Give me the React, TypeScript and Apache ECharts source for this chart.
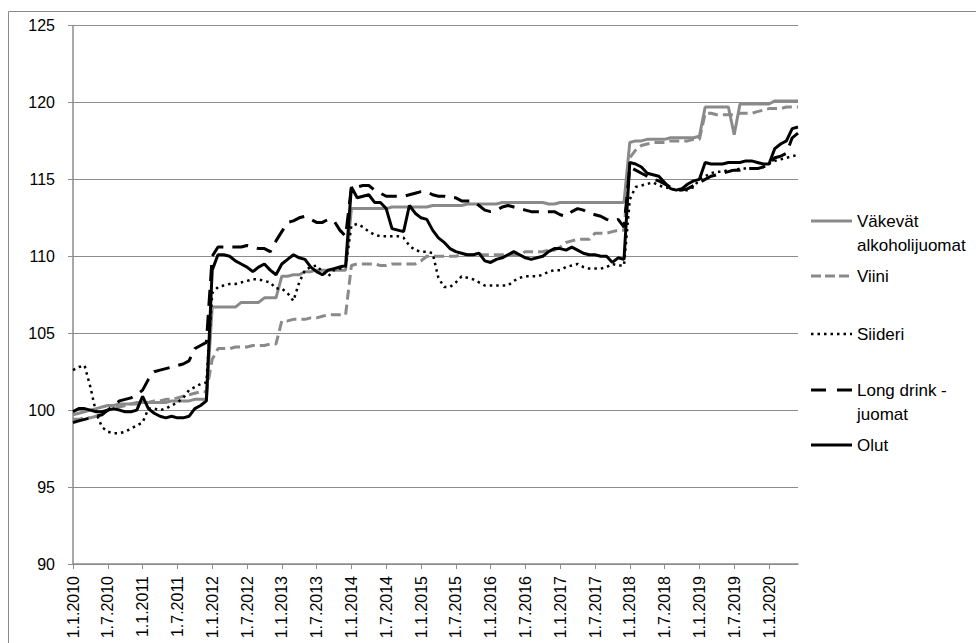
import React, { useEffect, useRef } from "react";
import * as echarts from "echarts";

const years = [2010, 2011, 2012, 2013, 2014, 2015, 2016, 2017, 2018, 2019, 2020];
const monthsShown = 126;
const categories: string[] = [];
years.forEach((y) => {
  for (let m = 1; m <= 12; m++) {
    if (categories.length < monthsShown) categories.push(`1.${m}.${y}`);
  }
});

const yTicks = { min: 90, max: 125, interval: 5 };

// Väkevät alkoholijuomat
const vakevat = [
  99.7, 99.8, 99.9, 100.0, 100.1, 100.2, 100.3, 100.3, 100.4, 100.4, 100.4, 100.5,
  100.5, 100.5, 100.5, 100.5, 100.5, 100.6, 100.6, 100.6, 100.6, 100.7, 100.7, 100.7,
  106.7, 106.7, 106.7, 106.7, 106.7, 107.0, 107.0, 107.0, 107.0, 107.3, 107.3, 107.3,
  108.7, 108.7, 108.8, 108.8, 109.0, 109.0, 109.1, 109.1, 109.1, 109.1, 109.1, 109.1,
  113.1, 113.1, 113.1, 113.1, 113.1, 113.1, 113.1, 113.2, 113.2, 113.2, 113.2, 113.2,
  113.2, 113.2, 113.3, 113.3, 113.3, 113.3, 113.3, 113.3, 113.4, 113.4, 113.4, 113.4,
  113.4, 113.4, 113.5, 113.5, 113.5, 113.5, 113.5, 113.5, 113.5, 113.5, 113.4, 113.4,
  113.5, 113.5, 113.5, 113.5, 113.5, 113.5, 113.5, 113.5, 113.5, 113.5, 113.5, 113.5,
  117.4, 117.5, 117.5, 117.6, 117.6, 117.6, 117.6, 117.7, 117.7, 117.7, 117.7, 117.7,
  117.8, 119.7, 119.7, 119.7, 119.7, 119.7, 117.9, 119.9, 119.9, 119.9, 119.9, 119.9,
  119.9, 120.1, 120.1, 120.1, 120.1, 120.1,
];

// Viini
const viini = [
  99.4, 99.4, 99.5, 99.5, 99.6, 99.8, 100.0, 100.1, 100.2, 100.3, 100.4, 100.4,
  100.5, 100.5, 100.6, 100.6, 100.7, 100.7, 100.8, 100.9, 101.0, 101.1, 101.2, 101.2,
  103.3, 104.0, 104.0, 104.0, 104.1, 104.1, 104.1, 104.2, 104.2, 104.2, 104.3, 104.3,
  105.8, 105.8, 105.9, 105.9, 105.9, 106.0, 106.0, 106.1, 106.2, 106.2, 106.2, 106.2,
  109.4, 109.5, 109.5, 109.5, 109.5, 109.4, 109.4, 109.5, 109.5, 109.5, 109.5, 109.5,
  109.7, 110.0, 110.0, 110.0, 110.0, 110.0, 110.0, 110.1, 110.1, 110.1, 110.1, 110.1,
  110.1, 110.1, 110.1, 110.1, 110.1, 110.1, 110.3, 110.3, 110.3, 110.3, 110.4, 110.4,
  110.6, 110.9, 111.0, 111.1, 111.1, 111.1, 111.5, 111.5, 111.5, 111.6, 111.7, 111.7,
  116.4, 116.9, 117.2, 117.3, 117.4, 117.4, 117.4, 117.5, 117.5, 117.5, 117.5, 117.6,
  117.6, 119.3, 119.3, 119.2, 119.2, 119.2, 119.2, 119.3, 119.3, 119.3, 119.4, 119.5,
  119.6, 119.6, 119.6, 119.7, 119.7, 119.7,
];

// Siideri
const siideri = [
  102.6, 102.8, 102.9, 101.5, 99.8, 98.9, 98.6, 98.5, 98.5, 98.6, 98.8, 99.0,
  99.2, 100.1, 100.1, 100.0, 100.1, 100.3, 100.5, 100.8, 101.3, 101.5, 101.7, 101.8,
  107.6, 108.0, 108.1, 108.2, 108.2, 108.3, 108.4, 108.5, 108.5, 108.4, 108.3, 107.9,
  107.9, 107.6, 107.1, 108.3, 109.1, 109.3, 109.4, 109.0, 108.7, 109.1, 109.2, 109.3,
  112.0, 112.1, 111.9, 111.6, 111.4, 111.3, 111.3, 111.3, 111.3, 111.2, 110.7, 110.4,
  110.3, 110.3, 110.2, 108.6, 108.0, 108.0, 108.3, 108.7, 108.6, 108.5, 108.3, 108.1,
  108.1, 108.1, 108.1, 108.1, 108.4, 108.6, 108.7, 108.7, 108.7, 108.8, 109.0, 109.1,
  109.1, 109.3, 109.4, 109.5, 109.3, 109.2, 109.2, 109.2, 109.3, 109.5, 109.4, 109.4,
  113.7, 114.5, 114.6, 114.7, 114.8, 114.6, 114.5, 114.4, 114.3, 114.3, 114.3, 114.5,
  115.0, 115.2, 115.4, 115.5, 115.5, 115.6, 115.6, 115.7, 115.7, 115.7, 115.7, 115.8,
  116.0, 116.2, 116.3, 116.4, 116.5, 116.6,
];

// Long drink -juomat
const longDrink = [
  99.2, 99.3, 99.4, 99.5, 99.6, 99.7, 100.0, 100.3, 100.6, 100.7, 100.8, 101.0,
  101.3, 102.0, 102.5, 102.6, 102.7, 102.8, 102.9, 103.0, 103.2, 104.0, 104.2, 104.4,
  110.0, 110.6, 110.6, 110.6, 110.6, 110.6, 110.7, 110.6, 110.5, 110.5, 110.3, 111.0,
  111.6, 112.2, 112.3, 112.5, 112.6, 112.4, 112.2, 112.2, 112.4, 112.3, 111.7, 111.3,
  114.5, 114.5, 114.6, 114.6, 114.3, 114.1, 113.9, 113.9, 113.9, 113.9, 114.0, 114.1,
  114.2, 114.2, 114.0, 113.9, 113.9, 113.8, 113.8, 113.6, 113.6, 113.6, 113.3, 113.0,
  112.9, 113.0, 113.2, 113.3, 113.2, 113.1, 113.0, 112.9, 112.9, 112.9, 112.9, 112.9,
  112.7, 112.6, 112.9, 113.1, 113.0, 112.8, 112.7, 112.6, 112.4, 112.3, 112.4, 111.9,
  115.8, 115.6, 115.4, 115.2, 115.0, 114.9, 114.7, 114.5, 114.4, 114.3, 114.4, 114.6,
  114.8, 115.0, 115.2, 115.3, 115.4, 115.5, 115.6, 115.6, 115.7, 115.7, 115.7, 115.8,
  116.0, 116.4, 116.5, 116.7, 117.7, 118.0,
];

// Olut
const olut = [
  99.9, 100.1, 100.1, 100.0, 99.9, 99.9, 100.0, 100.1, 100.0, 99.9, 99.9, 100.0,
  100.9, 100.1, 99.8, 99.6, 99.5, 99.6, 99.5, 99.5, 99.6, 100.1, 100.3, 100.6,
  109.1, 110.1, 110.1, 110.0, 109.7, 109.5, 109.3, 109.0, 109.3, 109.5, 109.1, 108.8,
  109.5, 109.8, 110.1, 109.9, 109.8, 109.3, 109.0, 108.8, 109.1, 109.2, 109.3, 109.4,
  114.5, 113.8, 113.9, 114.0, 113.5, 113.5, 113.1, 111.8, 111.7, 111.6, 113.3, 112.8,
  112.5, 112.4, 111.7, 111.2, 110.9, 110.5, 110.3, 110.2, 110.1, 110.1, 110.2, 109.7,
  109.6, 109.8, 109.9, 110.1, 110.3, 110.1, 109.9, 109.8, 109.9, 110.0, 110.3, 110.5,
  110.5, 110.4, 110.6, 110.4, 110.2, 110.1, 110.1, 110.0, 110.0, 109.6, 109.9, 109.8,
  116.1, 116.0, 115.8, 115.4, 115.3, 115.2, 114.8, 114.4, 114.3, 114.4, 114.7, 114.9,
  115.0, 116.1, 116.0, 116.0, 116.0, 116.1, 116.1, 116.1, 116.2, 116.2, 116.1, 116.0,
  116.0, 117.0, 117.3, 117.5, 118.3, 118.4,
];

const GREY = "#8a8a8a";
const AXIS_GREY = "#8c8c8c";
const FONT = "Liberation Sans";

const seriesDefs = [
  { name: "Väkevät\nalkoholijuomat", data: vakevat, color: GREY, width: 3, dash: "solid" as any, legendDash: null as any },
  { name: "Viini", data: viini, color: GREY, width: 3, dash: [10, 5], legendDash: [10, 4] },
  { name: "Siideri", data: siideri, color: "#000000", width: 2.5, dash: [2.5, 4], legendDash: [2.5, 4] },
  { name: "Long drink -\njuomat", data: longDrink, color: "#000000", width: 3, dash: [16, 9], legendDash: [15, 11] },
  { name: "Olut", data: olut, color: "#000000", width: 3, dash: "solid" as any, legendDash: null as any },
];

const legendRowY = [221, 276, 334, 390, 445];

export default function App() {
  const ref = useRef<HTMLDivElement>(null);
  useEffect(() => {
    if (!ref.current) return;
    const chart = echarts.init(ref.current, undefined, { renderer: "svg" });
    const graphics: any[] = [
      {
        type: "rect",
        shape: { x: 8.5, y: 11.5, width: 1200, height: 1000 },
        style: { fill: "none", stroke: "#8a8a8a", lineWidth: 1 },
        silent: true,
      },
    ];
    seriesDefs.forEach((s, i) => {
      const y = legendRowY[i];
      graphics.push({
        type: "line",
        shape: { x1: 811, y1: y, x2: 852, y2: y },
        style: {
          stroke: s.color,
          lineWidth: s.width,
          lineDash: s.legendDash || undefined,
        },
      });
      graphics.push({
        type: "text",
        x: 857,
        y: y - 12,
        style: {
          text: s.name,
          fontFamily: FONT,
          fontSize: 17,
          fill: "#000",
          lineHeight: 24,
          verticalAlign: "top",
        },
      });
    });
    chart.setOption({
      animation: false,
      backgroundColor: "#ffffff",
      textStyle: { fontFamily: FONT },
      grid: {
        left: 73,
        right: 178,
        top: 25.5,
        bottom: 79,
        containLabel: false,
        outerBoundsMode: "none",
      },
      xAxis: {
        type: "category",
        data: categories,
        boundaryGap: false,
        axisLine: { show: true, lineStyle: { color: AXIS_GREY, width: 1.5 } },
        axisTick: { show: true, interval: 5, length: 5, lineStyle: { color: AXIS_GREY } },
        axisLabel: {
          interval: 5,
          rotate: 90,
          margin: 12,
          color: "#000",
          fontFamily: FONT,
          fontSize: 16,
        },
        splitLine: { show: false },
      },
      yAxis: {
        type: "value",
        min: yTicks.min,
        max: yTicks.max,
        interval: yTicks.interval,
        axisLine: { show: true, lineStyle: { color: AXIS_GREY, width: 1.5 } },
        axisTick: { show: true, length: 5, lineStyle: { color: AXIS_GREY } },
        axisLabel: { margin: 18, color: "#000", fontFamily: FONT, fontSize: 16 },
        splitLine: { show: true, lineStyle: { color: AXIS_GREY, width: 1.2 } },
      },
      series: seriesDefs.map((s) => ({
        name: s.name,
        type: "line",
        data: s.data,
        showSymbol: false,
        symbol: "none",
        lineStyle: { color: s.color, width: s.width, type: s.dash },
        itemStyle: { color: s.color },
      })),
      graphic: graphics,
    });
    return () => chart.dispose();
  }, []);
  return (
    <div
      ref={ref}
      style={{ position: "fixed", left: 0, top: 0, width: 976, height: 643, background: "#fff" }}
    />
  );
}
